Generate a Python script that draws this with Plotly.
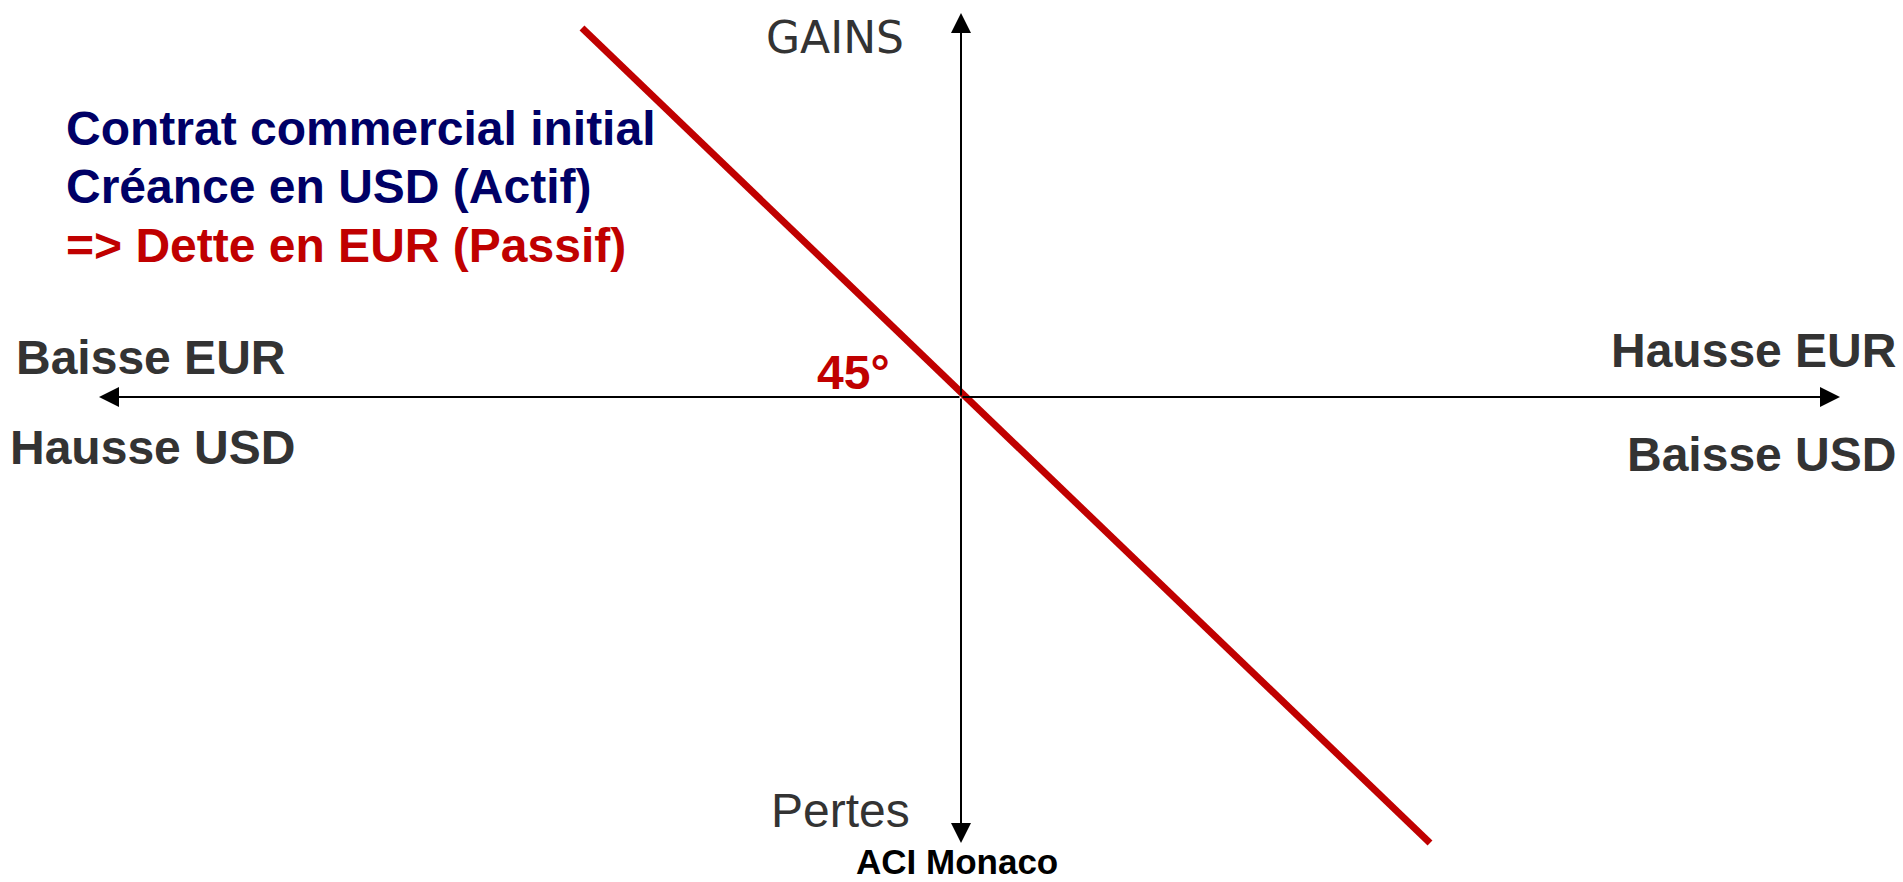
"""FX exposure diagram: EUR debt payoff vs EUR/USD move."""

import plotly.graph_objects as go

# ── data ─────────────────────────────────────────────────────────────
# payoff line (x: EUR move, y: gain/loss), in diagram units centred on origin
payoff_x = [-379, 469]
payoff_y = [369, -446]

# axis arrow tips (left, right, top, bottom)
axis_x = [-862, 879, 0, 0]
axis_y = [0, 0, 384, -446]

x_range = [-961, 942]
y_range = [-485, 397]

COLORS = {"red": "#C00000", "navy": "#000066", "grey": "#333333", "black": "#000000"}
FONT = "Liberation Sans, Arial, sans-serif"

# ── chart ────────────────────────────────────────────────────────────
fig = go.Figure()
fig.add_trace(
    go.Scatter(
        x=payoff_x,
        y=payoff_y,
        mode="lines",
        line={"color": COLORS["red"], "width": 7},
        hoverinfo="skip",
        showlegend=False,
    )
)

for tx, ty in zip(axis_x, axis_y):
    fig.add_annotation(
        x=tx, y=ty, ax=0, ay=0, xref="x", yref="y", axref="x", ayref="y",
        text="", showarrow=True, arrowhead=2, arrowsize=2, arrowwidth=2,
        arrowcolor=COLORS["black"],
    )


def label(text, x, y, color, size=48, bold=True, anchor="left", family=FONT):
    fig.add_annotation(
        x=x, y=y, xref="x", yref="y", text=text, showarrow=False,
        xanchor=anchor, yanchor="middle", borderpad=0,
        font={"family": family, "size": size, "color": color,
              "weight": "bold" if bold else "normal"},
    )


label("Contrat commercial initial", -896, 269, COLORS["navy"])
label("Créance en USD (Actif)", -896, 211, COLORS["navy"])
label("=> Dette en EUR (Passif)", -896, 152, COLORS["red"])
label("Baisse EUR", -946, 40, COLORS["grey"])
label("Hausse USD", -952, -50, COLORS["grey"])
label("45°", -145, 25, COLORS["red"])
label("Hausse EUR", 936, 47, COLORS["grey"], anchor="right")
label("Baisse USD", 936, -57, COLORS["grey"], anchor="right")
label("GAINS", -196, 360, COLORS["grey"], size=44, bold=False,
      family="DejaVu Sans, sans-serif")
label("Pertes", -191, -413, COLORS["grey"], bold=False)
label("ACI Monaco", -106, -464, COLORS["black"], size=35)

fig.update_layout(
    width=1903,
    height=882,
    margin={"l": 0, "r": 0, "t": 0, "b": 0},
    paper_bgcolor="white",
    plot_bgcolor="white",
    xaxis={"range": x_range, "visible": False, "fixedrange": True},
    yaxis={"range": y_range, "visible": False, "fixedrange": True},
    showlegend=False,
)
fig.write_html(
    "out.html",
    config={"displayModeBar": False},
    post_script="document.body.style.margin = '0';",
)
